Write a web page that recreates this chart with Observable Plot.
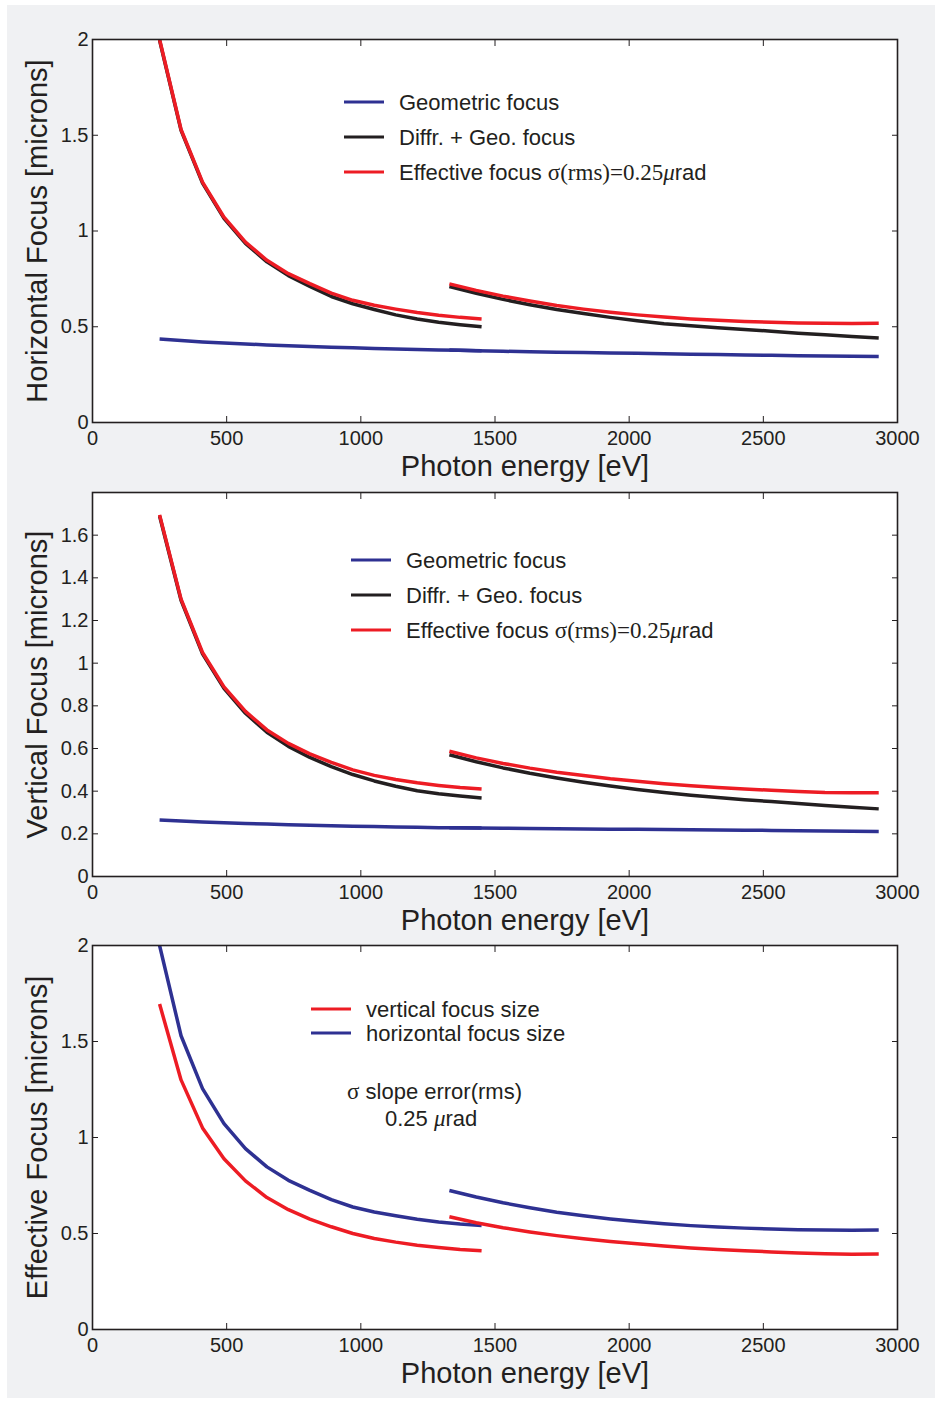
<!DOCTYPE html>
<html><head><meta charset="utf-8">
<script src="https://cdn.jsdelivr.net/npm/d3@7"></script>
<script src="https://cdn.jsdelivr.net/npm/@observablehq/plot@0.6"></script>
<style>
html,body{margin:0;padding:0;background:#fff}
body{width:938px;height:1403px;position:relative;overflow:hidden;font-family:Helvetica,Arial,"Liberation Sans",sans-serif}
#bg{position:absolute;left:7px;top:5px;width:928px;height:1393px;background:#f0f1f3}
.panel{position:absolute;left:0}
.panel svg{background:transparent !important;display:block;overflow:visible}
</style></head>
<body>
<div id="bg"></div>
<div id="p1" class="panel" style="top:0px"></div>
<div id="p2" class="panel" style="top:470px"></div>
<div id="p3" class="panel" style="top:920px"></div>
<script>
// ---- data ----
const energy1 = [250,330,410,490,570,650,730,810,890,970,1050,1130,1210,1290,1370,1450];
const energy2 = [1330,1430,1530,1630,1730,1830,1930,2030,2130,2230,2330,2430,2530,2630,2730,2830,2930];
const xTicks = [0,500,1000,1500,2000,2500,3000];
const hTicks = [0,0.5,1,1.5,2];
const vTicks = [0,0.2,0.4,0.6,0.8,1,1.2,1.4,1.6];
const eTicks = [0,0.5,1,1.5,2];

// Horizontal focus [microns]
const hGeo1  = [0.436,0.428,0.421,0.415,0.410,0.405,0.401,0.397,0.393,0.390,0.387,0.384,0.381,0.379,0.377,0.375];
const hGeo2  = [0.378,0.375,0.372,0.369,0.367,0.365,0.363,0.361,0.359,0.357,0.355,0.353,0.351,0.349,0.347,0.346,0.344];
const hDiff1 = [1.995,1.525,1.25,1.066,0.935,0.839,0.767,0.711,0.658,0.620,0.590,0.562,0.540,0.524,0.511,0.500];
const hDiff2 = [0.710,0.675,0.643,0.615,0.590,0.569,0.549,0.531,0.516,0.505,0.495,0.486,0.477,0.466,0.458,0.449,0.441];
const hEff1  = [2.00,1.53,1.255,1.072,0.942,0.847,0.777,0.725,0.676,0.638,0.612,0.592,0.574,0.560,0.549,0.541];
const hEff2  = [0.724,0.690,0.660,0.634,0.611,0.592,0.576,0.562,0.551,0.541,0.534,0.528,0.523,0.520,0.518,0.517,0.518];

// Vertical focus [microns]
const vGeo1  = [0.265,0.260,0.256,0.252,0.249,0.246,0.243,0.240,0.238,0.236,0.234,0.232,0.231,0.229,0.228,0.227];
const vGeo2  = [0.229,0.227,0.226,0.225,0.224,0.223,0.222,0.221,0.220,0.219,0.218,0.217,0.216,0.215,0.213,0.212,0.211];
const vDiff1 = [1.69,1.295,1.044,0.882,0.765,0.676,0.610,0.558,0.515,0.478,0.448,0.423,0.402,0.388,0.377,0.368];
const vDiff2 = [0.571,0.538,0.509,0.484,0.462,0.442,0.424,0.408,0.394,0.381,0.370,0.360,0.351,0.342,0.333,0.325,0.317];
const vEff1  = [1.695,1.30,1.050,0.889,0.774,0.687,0.624,0.575,0.535,0.500,0.474,0.455,0.439,0.427,0.417,0.410];
const vEff2  = [0.587,0.556,0.530,0.508,0.489,0.473,0.458,0.446,0.435,0.425,0.417,0.410,0.404,0.399,0.394,0.392,0.393];

// ---- styles ----
const BLUE = "#2e3192", BLACK = "#231f20", RED = "#ed1c24", INK = "#231f20";
const FONT = 'Helvetica, Arial, "Liberation Sans", sans-serif';
const SERIF = '"Liberation Serif", "DejaVu Serif", "Times New Roman", serif';

function rows(name, s1, s2) {
  return [
    ...energy1.map((e, i) => ({E: e, v: s1[i], key: name + "-1"})),
    ...energy2.map((e, i) => ({E: e, v: s2[i], key: name + "-2"}))
  ];
}

// legend / annotation render mark: items with optional swatch + text parts
function overlay(items) {
  return (index, scales, values, dims) => {
    const g = d3.create("svg:g").attr("font-family", FONT).attr("fill", INK).attr("text-anchor", "start");
    for (const it of items) {
      const x = dims.marginLeft + it.x, y = dims.marginTop + it.y;
      let tx = x;
      if (it.color) {
        g.append("line").attr("x1", x).attr("x2", x + 40).attr("y1", y).attr("y2", y)
          .attr("stroke", it.color).attr("stroke-width", 3);
        tx = x + 55;
      }
      const t = g.append("text").attr("x", tx).attr("y", y).attr("dy", "0.35em").attr("font-size", 22).attr("text-anchor", "start");
      for (const p of it.parts) {
        const ts = t.append("tspan").text(p.t);
        if (p.serif) ts.attr("font-family", SERIF).attr("font-size", 23);
        if (p.italic) ts.attr("font-style", "italic").attr("font-family", SERIF).attr("font-size", 23);
      }
    }
    return g.node();
  };
}

function panel({el, height, marginTop, marginBottom, ymax, yTicks, ylabel, series, notes}) {
  const marks = [
    Plot.frame({fill: "white", stroke: "none"}),
    ...series.map(s => Plot.line(rows(s.name, s.a, s.b), {
      x: "E", y: "v", z: "key", stroke: s.color, strokeWidth: 3.5,
      strokeLinejoin: "round", strokeLinecap: "butt"
    })),
    Plot.frame({stroke: INK, strokeWidth: 1.6}),
    Plot.axisX(xTicks, {anchor: "bottom", tickSize: -6, tickPadding: 14, fontSize: 20, fill: INK, stroke: INK, label: null, tickFormat: d => String(d)}),
    Plot.axisX(xTicks, {anchor: "top", tickSize: -6, fontSize: 1, label: null, stroke: INK, tickFormat: () => ""}),
    Plot.axisY(yTicks, {anchor: "left", tickSize: -6, tickPadding: 10, fontSize: 20, fill: INK, stroke: INK, label: null, tickFormat: d => String(d)}),
    Plot.axisY(yTicks, {anchor: "right", tickSize: -6, fontSize: 1, label: null, stroke: INK, tickFormat: () => ""}),
    Plot.text(["Photon energy [eV]"], {text: d => d, frameAnchor: "bottom", textAnchor: "middle", dx: 30, dy: 44, fontSize: 29, fill: INK, lineAnchor: "middle"}),
    Plot.text([ylabel], {text: d => d, frameAnchor: "left", textAnchor: "middle", rotate: -90, dx: -55, fontSize: 29, fill: INK, lineAnchor: "middle"}),
    overlay(notes)
  ];
  const svg = Plot.plot({
    width: 938, height, marginLeft: 92, marginRight: 41, marginTop, marginBottom,
    x: {domain: [0, 3000]},
    y: {domain: [0, ymax]},
    style: {fontFamily: FONT, background: "transparent", color: INK, overflow: "visible"},
    marks
  });
  document.getElementById(el).appendChild(svg);
}

const effParts = [{t: "Effective focus "}, {t: "σ(rms)=0.25", serif: true}, {t: "μ", italic: true}, {t: "rad"}];

panel({
  el: "p1", height: 485, marginTop: 39, marginBottom: 63, ymax: 2, yTicks: hTicks,
  ylabel: "Horizontal Focus [microns]",
  series: [
    {name: "geo", a: hGeo1, b: hGeo2, color: BLUE},
    {name: "diff", a: hDiff1, b: hDiff2, color: BLACK},
    {name: "eff", a: hEff1, b: hEff2, color: RED}
  ],
  notes: [
    {x: 252, y: 63, color: BLUE, parts: [{t: "Geometric focus"}]},
    {x: 252, y: 98, color: BLACK, parts: [{t: "Diffr. + Geo. focus"}]},
    {x: 252, y: 133, color: RED, parts: effParts}
  ]
});

panel({
  el: "p2", height: 470, marginTop: 22, marginBottom: 64, ymax: 1.8, yTicks: vTicks,
  ylabel: "Vertical Focus [microns]",
  series: [
    {name: "geo", a: vGeo1, b: vGeo2, color: BLUE},
    {name: "diff", a: vDiff1, b: vDiff2, color: BLACK},
    {name: "eff", a: vEff1, b: vEff2, color: RED}
  ],
  notes: [
    {x: 259, y: 68, color: BLUE, parts: [{t: "Geometric focus"}]},
    {x: 259, y: 103, color: BLACK, parts: [{t: "Diffr. + Geo. focus"}]},
    {x: 259, y: 138, color: RED, parts: effParts}
  ]
});

panel({
  el: "p3", height: 483, marginTop: 25, marginBottom: 74, ymax: 2, yTicks: eTicks,
  ylabel: "Effective Focus [microns]",
  series: [
    {name: "h", a: hEff1, b: hEff2, color: BLUE},
    {name: "v", a: vEff1, b: vEff2, color: RED}
  ],
  notes: [
    {x: 219, y: 64, color: RED, parts: [{t: "vertical focus size"}]},
    {x: 219, y: 88, color: BLUE, parts: [{t: "horizontal focus size"}]},
    {x: 255, y: 146, parts: [{t: "σ", serif: true}, {t: " slope error(rms)"}]},
    {x: 293, y: 173, parts: [{t: "0.25 "}, {t: "μ", italic: true}, {t: "rad"}]}
  ]
});
</script>
</body></html>
